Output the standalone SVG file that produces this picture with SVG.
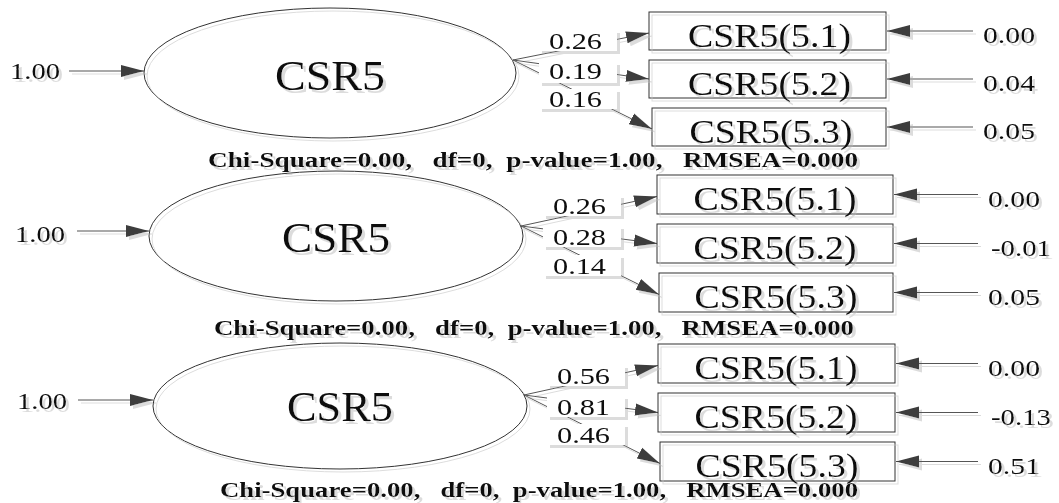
<svg xmlns="http://www.w3.org/2000/svg" width="1059" height="503" viewBox="0 0 1059 503">
<style>
.t{font-family:"Liberation Serif","Times New Roman",serif;fill:#111}
.num{font-size:24px}
.lat{font-size:42px}
.obs{font-size:34px}
.fit{font-size:20px;font-weight:bold;white-space:pre}
.lv{fill:none;stroke:#333;stroke-width:1}
.box{fill:none;stroke:#333;stroke-width:1}
.lbg{fill:#fff}
.ar{stroke:#555;stroke-width:1;fill:none;marker-end:url(#ah)}
.mid{text-anchor:middle}
</style>
<defs>
<marker id="ah" markerUnits="userSpaceOnUse" markerWidth="24" markerHeight="14" refX="23" refY="7" orient="auto">
<path d="M0,1 L23,7 L0,13 z" fill="#3c3c3c"/>
</marker>
<filter id="sh" x="-2%" y="-2%" width="104%" height="104%">
<feOffset in="SourceAlpha" dx="3" dy="3" result="o"/>
<feFlood flood-color="#dcdcdc"/>
<feComposite in2="o" operator="in" result="s"/>
<feMerge><feMergeNode in="s"/><feMergeNode in="SourceGraphic"/></feMerge>
</filter>
</defs>
<rect width="1059" height="503" fill="#fff"/>
<g filter="url(#sh)">
<g id="connectors">
<line class="ar" x1="69" y1="71" x2="144" y2="71"/>
<line class="ar" x1="513" y1="60" x2="649" y2="33"/>
<line class="ar" x1="513" y1="60" x2="649" y2="79"/>
<line class="ar" x1="513" y1="60" x2="652" y2="129"/>
<line class="ar" x1="973" y1="31" x2="887" y2="31"/>
<line class="ar" x1="973" y1="79" x2="887" y2="79"/>
<line class="ar" x1="973" y1="127" x2="887" y2="127"/>
<rect class="lbg" x="539" y="30" width="78" height="21"/>
<rect class="lbg" x="539" y="62" width="78" height="21"/>
<rect class="lbg" x="539" y="89" width="78" height="20"/>
<text class="t num" x="549" y="49" textLength="53" lengthAdjust="spacingAndGlyphs">0.26</text>
<text class="t num" x="549" y="79" textLength="53" lengthAdjust="spacingAndGlyphs">0.19</text>
<text class="t num" x="549" y="107" textLength="53" lengthAdjust="spacingAndGlyphs">0.16</text>

<line class="ar" x1="77" y1="231" x2="149" y2="231"/>
<line class="ar" x1="521" y1="226" x2="657" y2="196.5"/>
<line class="ar" x1="521" y1="226" x2="657" y2="243.5"/>
<line class="ar" x1="521" y1="226" x2="659" y2="294.5"/>
<line class="ar" x1="978" y1="194.5" x2="894" y2="194.5"/>
<line class="ar" x1="978" y1="243.5" x2="894" y2="243.5"/>
<line class="ar" x1="978" y1="292.5" x2="894" y2="292.5"/>
<rect class="lbg" x="543" y="195" width="78" height="21"/>
<rect class="lbg" x="543" y="226" width="78" height="21"/>
<rect class="lbg" x="543" y="255" width="78" height="21"/>
<text class="t num" x="553" y="214" textLength="53" lengthAdjust="spacingAndGlyphs">0.26</text>
<text class="t num" x="553" y="245" textLength="53" lengthAdjust="spacingAndGlyphs">0.28</text>
<text class="t num" x="553" y="274" textLength="53" lengthAdjust="spacingAndGlyphs">0.14</text>

<line class="ar" x1="78" y1="400" x2="153" y2="400"/>
<line class="ar" x1="524" y1="395" x2="658" y2="365.5"/>
<line class="ar" x1="524" y1="395" x2="658" y2="412.5"/>
<line class="ar" x1="524" y1="395" x2="660" y2="463.5"/>
<line class="ar" x1="978" y1="363.5" x2="896" y2="363.5"/>
<line class="ar" x1="978" y1="412.5" x2="896" y2="412.5"/>
<line class="ar" x1="978" y1="461.5" x2="896" y2="461.5"/>
<rect class="lbg" x="547" y="365" width="78" height="21"/>
<rect class="lbg" x="547" y="396" width="78" height="21"/>
<rect class="lbg" x="547" y="424" width="78" height="21"/>
<text class="t num" x="557" y="384" textLength="53" lengthAdjust="spacingAndGlyphs">0.56</text>
<text class="t num" x="557" y="415" textLength="53" lengthAdjust="spacingAndGlyphs">0.81</text>
<text class="t num" x="557" y="443" textLength="53" lengthAdjust="spacingAndGlyphs">0.46</text>
</g>

<g id="p1-latent">
<ellipse class="lv" cx="330" cy="73" rx="186" ry="65"/>
<text class="t lat mid" x="330" y="90" textLength="110" lengthAdjust="spacingAndGlyphs">CSR5</text>
</g>
<g id="p1-var"><text class="t num" x="10" y="79" textLength="50" lengthAdjust="spacingAndGlyphs">1.00</text></g>
<g id="p1-obs1"><rect class="box" x="649" y="12" width="237" height="38"/><text class="t obs mid" x="769.5" y="47" textLength="163" lengthAdjust="spacingAndGlyphs">CSR5(5.1)</text></g>
<g id="p1-obs2"><rect class="box" x="649" y="60" width="237" height="38"/><text class="t obs mid" x="769.5" y="95" textLength="163" lengthAdjust="spacingAndGlyphs">CSR5(5.2)</text></g>
<g id="p1-obs3"><rect class="box" x="652" y="108" width="234" height="38"/><text class="t obs mid" x="771" y="143" textLength="163" lengthAdjust="spacingAndGlyphs">CSR5(5.3)</text></g>
<g id="p1-err1"><text class="t num" x="983" y="43" textLength="52" lengthAdjust="spacingAndGlyphs">0.00</text></g>
<g id="p1-err2"><text class="t num" x="983" y="91" textLength="52" lengthAdjust="spacingAndGlyphs">0.04</text></g>
<g id="p1-err3"><text class="t num" x="983" y="139" textLength="52" lengthAdjust="spacingAndGlyphs">0.05</text></g>
<g id="p1-fit"><text class="t fit" x="208" y="167" textLength="650" lengthAdjust="spacingAndGlyphs">Chi-Square=0.00,   df=0,  p-value=1.00,   RMSEA=0.000</text></g>

<g id="p2-latent">
<ellipse class="lv" cx="336" cy="236" rx="187" ry="65"/>
<text class="t lat mid" x="336" y="252" textLength="108" lengthAdjust="spacingAndGlyphs">CSR5</text>
</g>
<g id="p2-var"><text class="t num" x="15" y="242" textLength="50" lengthAdjust="spacingAndGlyphs">1.00</text></g>
<g id="p2-obs1"><rect class="box" x="657" y="175" width="236" height="39"/><text class="t obs mid" x="775" y="210" textLength="163" lengthAdjust="spacingAndGlyphs">CSR5(5.1)</text></g>
<g id="p2-obs2"><rect class="box" x="657" y="224" width="236" height="39"/><text class="t obs mid" x="775" y="259" textLength="163" lengthAdjust="spacingAndGlyphs">CSR5(5.2)</text></g>
<g id="p2-obs3"><rect class="box" x="659" y="273" width="234" height="39"/><text class="t obs mid" x="776" y="308" textLength="163" lengthAdjust="spacingAndGlyphs">CSR5(5.3)</text></g>
<g id="p2-err1"><text class="t num" x="988" y="206.5" textLength="52" lengthAdjust="spacingAndGlyphs">0.00</text></g>
<g id="p2-err2"><text class="t num" x="991" y="255.5" textLength="60" lengthAdjust="spacingAndGlyphs">-0.01</text></g>
<g id="p2-err3"><text class="t num" x="988" y="304.5" textLength="52" lengthAdjust="spacingAndGlyphs">0.05</text></g>
<g id="p2-fit"><text class="t fit" x="214" y="335" textLength="640" lengthAdjust="spacingAndGlyphs">Chi-Square=0.00,   df=0,  p-value=1.00,   RMSEA=0.000</text></g>

<g id="p3-latent">
<ellipse class="lv" cx="340" cy="406" rx="187" ry="63"/>
<text class="t lat mid" x="340" y="421" textLength="106" lengthAdjust="spacingAndGlyphs">CSR5</text>
</g>
<g id="p3-var"><text class="t num" x="17" y="409" textLength="50" lengthAdjust="spacingAndGlyphs">1.00</text></g>
<g id="p3-obs1"><rect class="box" x="658" y="344" width="237" height="39"/><text class="t obs mid" x="776" y="379" textLength="163" lengthAdjust="spacingAndGlyphs">CSR5(5.1)</text></g>
<g id="p3-obs2"><rect class="box" x="658" y="393" width="237" height="39"/><text class="t obs mid" x="776" y="428" textLength="163" lengthAdjust="spacingAndGlyphs">CSR5(5.2)</text></g>
<g id="p3-obs3"><rect class="box" x="660" y="442" width="235" height="39"/><text class="t obs mid" x="777" y="477" textLength="163" lengthAdjust="spacingAndGlyphs">CSR5(5.3)</text></g>
<g id="p3-err1"><text class="t num" x="988" y="375.5" textLength="52" lengthAdjust="spacingAndGlyphs">0.00</text></g>
<g id="p3-err2"><text class="t num" x="991" y="424.5" textLength="60" lengthAdjust="spacingAndGlyphs">-0.13</text></g>
<g id="p3-err3"><text class="t num" x="988" y="473.5" textLength="52" lengthAdjust="spacingAndGlyphs">0.51</text></g>
<g id="p3-fit"><text class="t fit" x="220" y="497" textLength="638" lengthAdjust="spacingAndGlyphs">Chi-Square=0.00,   df=0,  p-value=1.00,   RMSEA=0.000</text></g>
</g>
</svg>
